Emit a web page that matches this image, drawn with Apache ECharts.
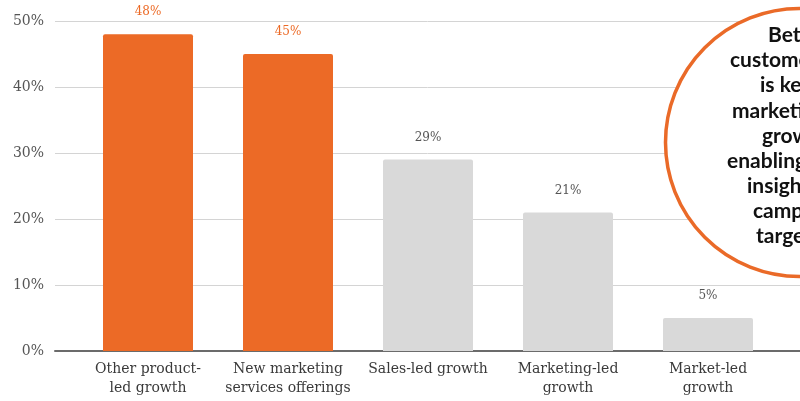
<!DOCTYPE html>
<html>
<head>
<meta charset="utf-8">
<script src="https://cdn.jsdelivr.net/npm/echarts@6/dist/echarts.min.js"></script>
<style>
  html, body { margin: 0; padding: 0; background: #fff; }
  #chart { width: 800px; height: 401px; }
</style>
</head>
<body>
<div id="chart"></div>
<script>
// Growth drivers, share of respondents
const categories = [
  'Other product-\nled growth',
  'New marketing\nservices offerings',
  'Sales-led growth',
  'Marketing-led\ngrowth',
  'Market-led\ngrowth'
];
const values = [48, 45, 29, 21, 5];
const highlighted = [true, true, false, false, false];
const yTicks = [0, 10, 20, 30, 40, 50];

const ORANGE = '#EC6A26';
const GREY = '#D9D9D9';
const SERIF = '"DejaVu Serif", "Liberation Serif", serif';

// Callout lines inside the circle
const calloutLines = [
  'Better',
  'customer data',
  'is key to',
  'marketing-led',
  'growth,',
  'enabling deeper',
  'insights and',
  'campaign',
  'targeting.'
];
const calloutLeft = [768, 730, 760, 732, 762, 727, 747, 753, 756];

const chart = echarts.init(document.getElementById('chart'), null, { renderer: 'canvas' });

const calloutText = calloutLines.map((t, i) => ({
  type: 'text',
  x: calloutLeft[i],
  y: 46 + i * 25.1,
  z: 20,
  style: {
    text: t,
    fill: '#111',
    font: 'bold 21px Lato, "Noto Sans", sans-serif',
    textAlign: 'left',
    textVerticalAlign: 'bottom',
    verticalAlign: 'alphabetic'
  }
}));

chart.setOption({
  animation: false,
  grid: [
    { left: 55, right: 0, top: 21, bottom: 50 },
    { left: 78, width: 700, top: 21, bottom: 50 }
  ],
  xAxis: [
    {
      gridIndex: 0, type: 'value', min: 0, max: 1,
      axisLine: { show: true, lineStyle: { color: '#6b6b6b', width: 2 } },
      axisTick: { show: false }, axisLabel: { show: false }, splitLine: { show: false }
    },
    {
      gridIndex: 1, type: 'category', data: categories,
      axisLine: { show: false }, axisTick: { show: false },
      axisLabel: {
        color: '#3a3a3a', fontFamily: SERIF, fontSize: 14, lineHeight: 19,
        margin: 9, interval: 0
      }
    }
  ],
  yAxis: [
    {
      gridIndex: 0, type: 'value', min: yTicks[0], max: yTicks[yTicks.length - 1], interval: 10,
      axisLine: { show: false }, axisTick: { show: false },
      axisLabel: { formatter: '{value}%', color: '#555', fontFamily: SERIF, fontSize: 14, margin: 11 },
      splitLine: { lineStyle: { color: '#d4d4d4', width: 1 } }
    },
    {
      gridIndex: 1, type: 'value', min: yTicks[0], max: yTicks[yTicks.length - 1],
      show: false
    }
  ],
  series: [
    {
      type: 'bar',
      xAxisIndex: 1, yAxisIndex: 1,
      barWidth: 90,
      data: values.map((v, i) => ({
        value: v,
        itemStyle: { color: highlighted[i] ? ORANGE : GREY, borderRadius: [2, 2, 0, 0] },
        label: { color: highlighted[i] ? ORANGE : '#555' }
      })),
      label: {
        show: true, position: 'top', distance: 16,
        formatter: '{c}%', fontFamily: SERIF, fontSize: 12
      },
      z: 3
    }
  ],
  graphic: [
    {
      type: 'circle',
      shape: { cx: 799.5, cy: 142.5, r: 134 },
      z: 10,
      style: { fill: '#fff', stroke: '#EA6A28', lineWidth: 3.5 }
    }
  ].concat(calloutText)
});
</script>
</body>
</html>
